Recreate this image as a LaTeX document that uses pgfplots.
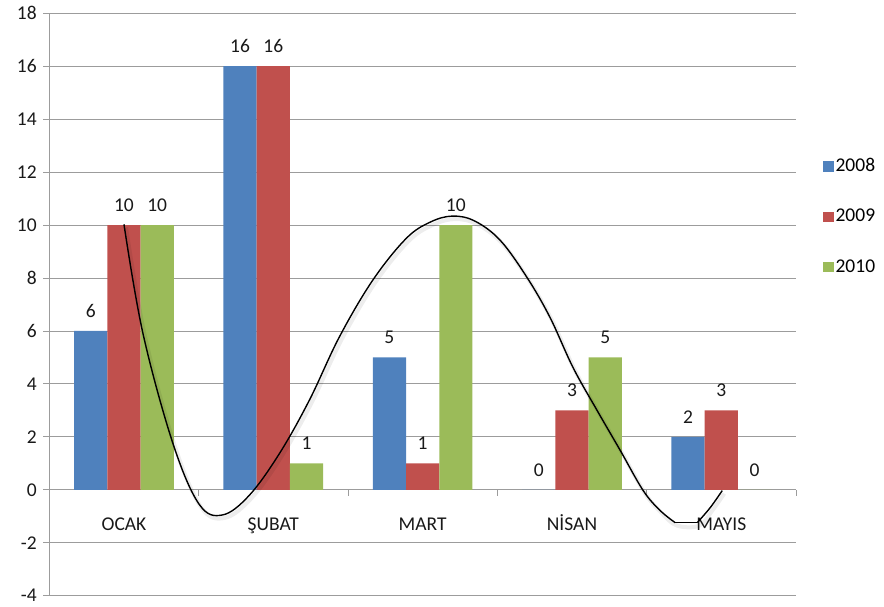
\documentclass[border=0pt]{standalone}
\usepackage{fontspec}
\setmainfont{Carlito}
\usepackage{pgfplots}
\pgfplotsset{compat=1.18}
\definecolor{c08}{HTML}{4F81BD}
\definecolor{c09}{HTML}{C0504D}
\definecolor{c10}{HTML}{9BBB59}
\definecolor{gridc}{HTML}{9C9C9C}
\begin{document}
\begin{tikzpicture}
\begin{axis}[
  at={(0,0)}, anchor=south west,
  scale only axis, width=746.7pt, height=582.4pt,
  xmin=-0.5, xmax=4.5, ymin=-4, ymax=18,
  axis x line=middle, axis y line=left,
  axis line style={draw=gridc, line width=0.9pt, -},
  hide obscured x ticks=false, hide obscured y ticks=false,
  ytick={-4,-2,...,18},
  ymajorgrids, grid style={gridc, line width=0.9pt},
  xtick={0,...,4}, xticklabels={OCAK,ŞUBAT,MART,NİSAN,MAYIS},
  minor xtick={0.5,1.5,2.5,3.5,4.5},
  major x tick style={draw=none},
  minor x tick style={gridc, line width=0.9pt},
  y tick style={gridc, line width=0.9pt},
  tick align=outside, minor tick length=6pt, major tick length=6pt,
  ticklabel style={font=\fontsize{19.5}{23}\selectfont, text=black!90},
  /pgf/number format/assume math mode=true,
  xticklabel style={text height=13pt, text depth=4pt, yshift=-18pt},
  yticklabel style={xshift=-3pt},
  clip=false,
  legend style={draw=none, fill=none, at={(1.032,0.758)}, anchor=north west,
    font=\fontsize{19.5}{23}\selectfont, row sep=32pt},
  legend cell align=left,
]
\addplot[ybar, bar width=0.2225, bar shift=0, fill=c08, draw=none,
  nodes near coords, every node near coord/.append style={font=\fontsize{19.5}{23}\selectfont, text=black!90, yshift=10pt},
  legend image code/.code={\fill[c08] (0pt,-6pt) rectangle (10.5pt,4.5pt);}]
  coordinates {(-0.2225,6) (0.7775,16) (1.7775,5) (2.7775,0) (3.7775,2)};
\addlegendentry{2008}
\addplot[ybar, bar width=0.2225, bar shift=0, fill=c09, draw=none,
  nodes near coords, every node near coord/.append style={font=\fontsize{19.5}{23}\selectfont, text=black!90, yshift=10pt},
  legend image code/.code={\fill[c09] (0pt,-6pt) rectangle (10.5pt,4.5pt);}]
  coordinates {(0,10) (1,16) (2,1) (3,3) (4,3)};
\addlegendentry{2009}
\addplot[ybar, bar width=0.2225, bar shift=0, fill=c10, draw=none,
  nodes near coords, every node near coord/.append style={font=\fontsize{19.5}{23}\selectfont, text=black!90, yshift=10pt},
  legend image code/.code={\fill[c10] (0pt,-6pt) rectangle (10.5pt,4.5pt);}]
  coordinates {(0.2225,10) (1.2225,1) (2.2225,10) (3.2225,5) (4.2225,0)};
\addlegendentry{2010}
% shadow of curve
\addplot[black, opacity=0.07, line width=4pt, smooth, tension=0.6, xshift=2pt, yshift=-3pt, forget plot]
  coordinates {(0,10.03) (0.127,5.91) (0.328,1.75) (0.504,-0.55) (0.66,-0.95) (0.839,-0.21) (1.040,1.36) (1.241,3.38) (1.442,5.77) (1.665,7.91) (1.889,9.49) (2.05,10.11) (2.20,10.34) (2.35,10.15) (2.52,9.42) (2.699,8.02) (2.853,6.51) (3.007,4.62) (3.168,3.00) (3.323,1.49) (3.477,-0.03) (3.590,-0.78) (3.691,-1.24) (3.839,-1.24) (3.926,-0.67) (4.006,-0.03)};
\addplot[black, line width=1.4pt, smooth, tension=0.6, forget plot]
  coordinates {(0,10.03) (0.127,5.91) (0.328,1.75) (0.504,-0.55) (0.66,-0.95) (0.839,-0.21) (1.040,1.36) (1.241,3.38) (1.442,5.77) (1.665,7.91) (1.889,9.49) (2.05,10.11) (2.20,10.34) (2.35,10.15) (2.52,9.42) (2.699,8.02) (2.853,6.51) (3.007,4.62) (3.168,3.00) (3.323,1.49) (3.477,-0.03) (3.590,-0.78) (3.691,-1.24)};
\addplot[black, line width=1.4pt, forget plot]
  coordinates {(3.691,-1.24) (3.839,-1.24)};
\addplot[black, line width=1.4pt, smooth, tension=0.6, forget plot]
  coordinates {(3.839,-1.24) (3.926,-0.67) (4.006,-0.03)};
\end{axis}
\pgfresetboundingbox
\path[use as bounding box] (-49.3pt,-10.3pt) rectangle (834.7pt,595.7pt);
\end{tikzpicture}
\end{document}
